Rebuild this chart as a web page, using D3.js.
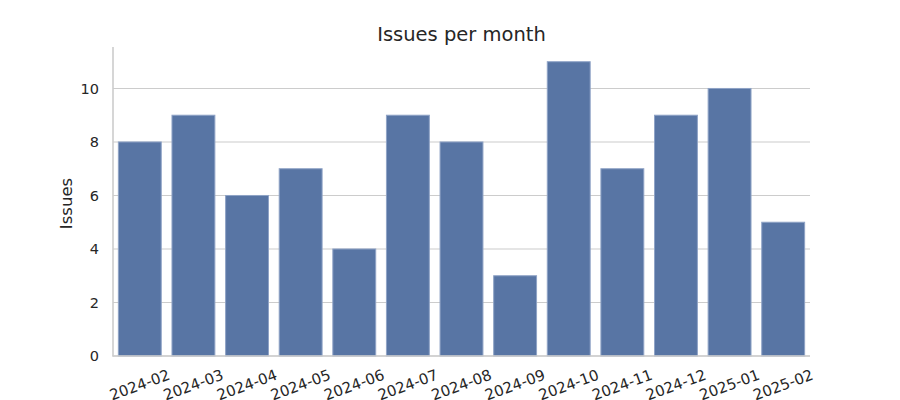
<!DOCTYPE html>
<html><head><meta charset="utf-8">
<script src="https://cdn.jsdelivr.net/npm/d3@7"></script>
<style>body{margin:0;background:#fff;} text{font-family:"DejaVu Sans",sans-serif;fill:#262626;}</style>
</head><body><svg id="c" width="900" height="400"></svg>
<script>
const months = ["2024-02","2024-03","2024-04","2024-05","2024-06","2024-07","2024-08","2024-09","2024-10","2024-11","2024-12","2025-01","2025-02"];
const issues = [8,9,6,7,4,9,8,3,11,7,9,10,5];
const yTicks = [0,2,4,6,8,10];
const title = "Issues per month";
const yLabel = "Issues";

const svg = d3.select("#c");
const L = 113, R = 810, T = 47, B = 356;
const x = d3.scaleBand().domain(months).range([L, R]).paddingInner(0.2).paddingOuter(0.1);
const y = d3.scaleLinear().domain([0, d3.max(issues) * 1.05]).range([B, T]);

// grid
svg.append("g").selectAll("line").data(yTicks).join("line")
  .attr("x1", L).attr("x2", R).attr("y1", d => y(d)).attr("y2", d => y(d))
  .attr("stroke", "#cccccc").attr("stroke-width", 1.1);

// bars
svg.append("g").selectAll("rect").data(months).join("rect")
  .attr("x", d => x(d)).attr("width", x.bandwidth())
  .attr("y", (d, i) => y(issues[i])).attr("height", (d, i) => B - y(issues[i]))
  .attr("fill", "#5875a4").attr("stroke", "#8fa3c6").attr("stroke-width", 1);

// spines
svg.append("line").attr("x1", L).attr("x2", L).attr("y1", T).attr("y2", B + 0.5)
  .attr("stroke", "#cccccc").attr("stroke-width", 1.6);
svg.append("line").attr("x1", L - 0.5).attr("x2", R).attr("y1", B).attr("y2", B)
  .attr("stroke", "#cccccc").attr("stroke-width", 1.6);

// y tick labels
svg.append("g").selectAll("text").data(yTicks).join("text")
  .attr("x", L - 14).attr("y", d => y(d)).attr("dy", "0.36em")
  .attr("text-anchor", "end").attr("font-size", 14.5).text(d => d);

// x tick labels
svg.append("g").selectAll("text").data(months).join("text")
  .attr("transform", d => `translate(${x(d) + x.bandwidth() / 2},${385}) rotate(-20)`)
  .attr("text-anchor", "middle").attr("dominant-baseline", "central")
  .attr("font-size", 15).text(d => d);

// y label
svg.append("text").attr("transform", `translate(66,${(T + B) / 2 + 2}) rotate(-90)`)
  .attr("text-anchor", "middle").attr("dominant-baseline", "central")
  .attr("font-size", 16.5).text(yLabel);

// title
svg.append("text").attr("x", (L + R) / 2).attr("y", 41)
  .attr("text-anchor", "middle").attr("font-size", 19.5).text(title);
</script></body></html>
